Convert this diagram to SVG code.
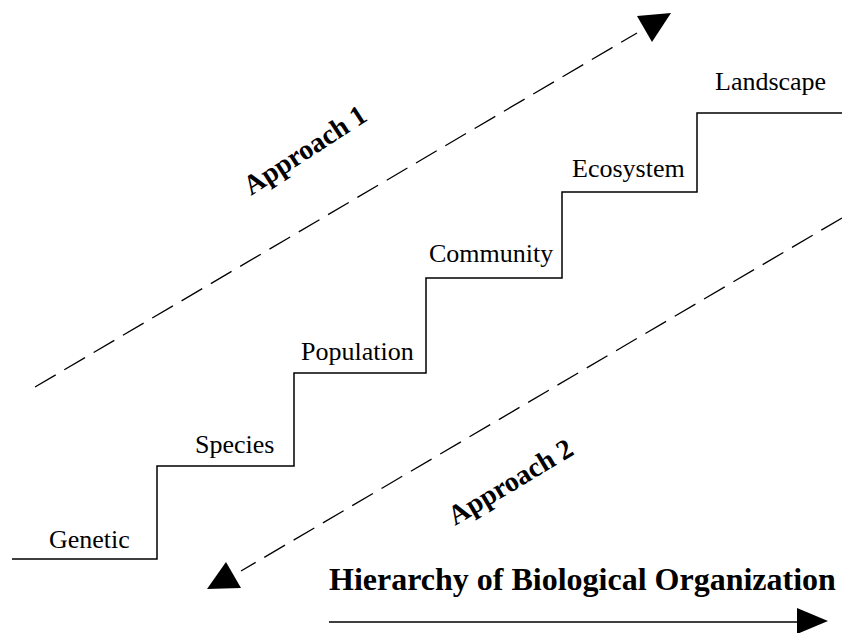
<svg xmlns="http://www.w3.org/2000/svg" width="842" height="633" viewBox="0 0 842 633">
<style>
.lbl{font-family:"Liberation Serif","Times New Roman",serif;font-size:26px;fill:#000}
.bold{font-family:"Liberation Serif","Times New Roman",serif;font-weight:bold;fill:#000}
.dash{fill:none;stroke:#000;stroke-width:1.3;stroke-dasharray:24 10}
.solid{fill:none;stroke:#000;stroke-width:1.5}
</style>
<rect width="842" height="633" fill="#fff"/>
<g id="stairs">
<path class="solid" d="M12,559 H157 V466 H294 V373 H426 V278 H562 V192 H697 V113 H842"/>
</g>
<g id="genetic"><text class="lbl" x="49" y="548">Genetic</text></g>
<g id="species"><text class="lbl" x="195" y="453">Species</text></g>
<g id="population"><text class="lbl" x="301" y="360">Population</text></g>
<g id="community"><text class="lbl" x="429" y="262">Community</text></g>
<g id="ecosystem"><text class="lbl" x="572" y="177">Ecosystem</text></g>
<g id="landscape"><text class="lbl" x="715" y="90">Landscape</text></g>
<g id="connectors">
<path class="dash" d="M35,387 L637,33"/>
<polygon points="637,16 671,13 652,42" fill="#000"/>
<path class="dash" d="M842,218 L241,571"/>
<polygon points="207,589 241,588 226,562" fill="#000"/>
<path class="solid" d="M329,622 H800"/>
<polygon points="797,608 828,621 797,634" fill="#000"/>
</g>
<g id="approach1"><text class="bold" font-size="28" transform="translate(251,196) rotate(-33)">Approach 1</text></g>
<g id="approach2"><text class="bold" font-size="28" transform="translate(455,526) rotate(-31)">Approach 2</text></g>
<g id="title"><text class="bold" font-size="32" x="329" y="590">Hierarchy of Biological Organization</text></g>
</svg>
